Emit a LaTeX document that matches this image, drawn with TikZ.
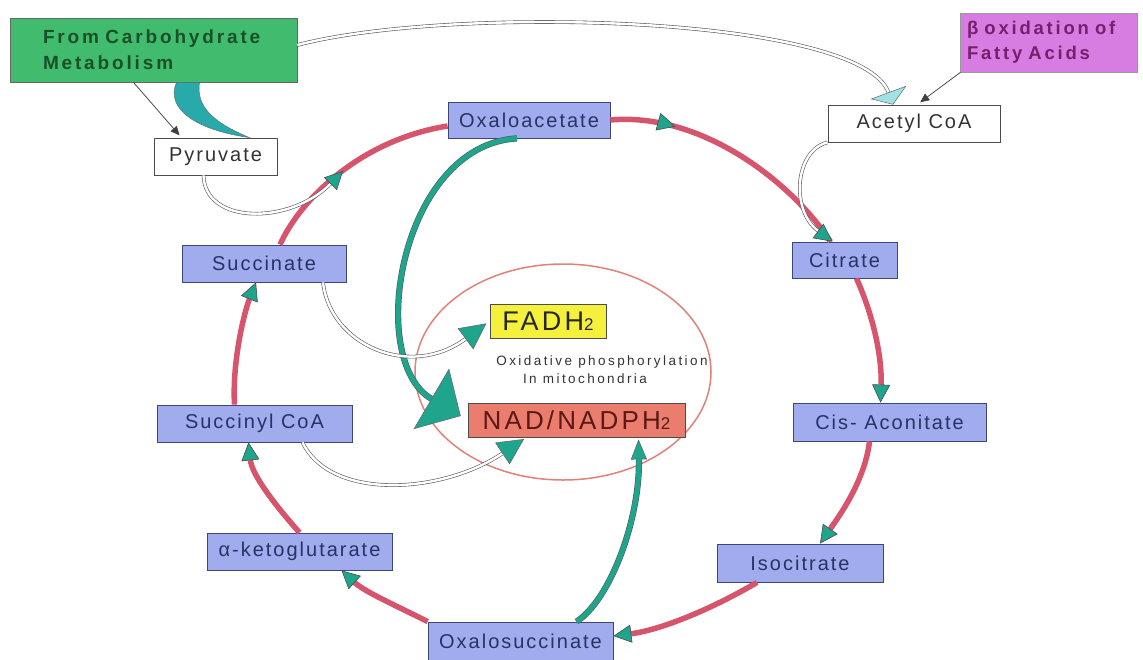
\documentclass[tikz,border=0pt]{standalone}
\usepackage{fontspec}
\setmainfont{Liberation Sans}
\newfontfamily\boxfont{Liberation Sans}[LetterSpace=10]
\newfontfamily\hdfont{Liberation Sans}[LetterSpace=15]
\newfontfamily\bigfont{Liberation Sans}[LetterSpace=12]
\newfontfamily\smfont{Liberation Sans}[LetterSpace=18]
\usetikzlibrary{arrows.meta,decorations.markings}
\definecolor{tealc}{RGB}{30,165,140}
\definecolor{swteal}{RGB}{40,170,170}
\definecolor{lteal}{RGB}{160,225,230}
\definecolor{cycred}{RGB}{214,84,108}
\definecolor{boxblue}{RGB}{160,172,238}
\definecolor{boxborder}{RGB}{60,70,120}
\definecolor{boxtext}{RGB}{40,50,100}
\definecolor{greenfill}{RGB}{65,188,110}
\definecolor{greentext}{RGB}{25,80,40}
\definecolor{purplefill}{RGB}{215,125,225}
\definecolor{purpletext}{RGB}{120,30,110}
\definecolor{yellowfill}{RGB}{245,240,60}
\definecolor{nadfill}{RGB}{235,125,110}
\definecolor{nadtext}{RGB}{90,25,20}
\definecolor{ellred}{RGB}{225,130,120}
\tikzset{
  ctip/.tip={Triangle[length=18pt,width=18pt,fill=tealc,color=black!70,line width=0.6pt]},
  btip/.tip={Triangle[length=26pt,width=26pt,fill=tealc,color=black!60,line width=0.5pt]},
  bigtip/.tip={Triangle[length=34pt,width=70pt,fill=tealc,color=black!60,line width=0.5pt]},
  ntip/.tip={Triangle[length=20pt,width=16pt,fill=tealc,color=black!60,line width=0.5pt]},
  ftip/.tip={Triangle[length=13pt,width=38pt,fill=lteal,color=black!60,line width=0.5pt]},
  stip/.tip={Triangle[length=9pt,width=8pt,fill=black!75,color=black!75]},
  cbox/.style={draw=boxborder, line width=0.8pt, fill=boxblue, text=boxtext,
    font=\boxfont\fontsize{20}{22}\selectfont, inner sep=0pt},
  wbox/.style={draw=black!70, line width=0.8pt, fill=white, text=black!80,
    font=\boxfont\fontsize{20}{22}\selectfont, inner sep=0pt},
  cyc/.style={draw=cycred, line width=5.5pt},
  dline/.style={draw=black!65, double=white, double distance=2.4pt, line width=0.6pt},
  tline/.style={draw=black!65, double=tealc, double distance=5pt, line width=0.6pt},
  pointer/.style={draw=black!70, line width=0.8pt},
  smalltxt/.style={font=\smfont\fontsize{13.5}{15}\selectfont, text=black!80, inner sep=0pt}
}
\begin{document}
\begin{tikzpicture}[x=1pt,y=-1pt]
\fill[white] (0,0) rectangle (1143,659);
\useasboundingbox (0,0) rectangle (1143,659);

% inner ellipse
\draw[ellred, line width=1.5pt] (563,372) ellipse [x radius=148, y radius=108];

% nodes
\node[draw=black!60, line width=0.8pt, fill=greenfill, text=greentext,
  font=\hdfont\bfseries\fontsize{19}{26}\selectfont,
  minimum width=287pt, minimum height=64pt, text width=221pt, align=left, inner sep=3pt]
  (green) at (153.5,50) {\mbox{From Carbohydrate}\\\mbox{Metabolism}};
\node[draw=black!40, line width=0.6pt, fill=purplefill, text=purpletext,
  font=\hdfont\bfseries\fontsize{18.5}{25}\selectfont,
  minimum width=177pt, minimum height=59pt, text width=163pt, align=left, inner sep=3pt]
  (purple) at (1048.5,42.5) {\mbox{β oxidation of}\\\mbox{Fatty Acids}};
\node[wbox, minimum width=123pt, minimum height=37pt] (pyr) at (215.5,156.5) {Pyruvate};
\node[wbox, minimum width=172pt, minimum height=37pt] (acoa) at (914,123.5) {Acetyl CoA};
\node[cbox, minimum width=162pt, minimum height=36pt] (oxa) at (529,120) {Oxaloacetate};
\node[cbox, minimum width=105pt, minimum height=36pt] (cit) at (844.5,260) {Citrate};
\node[cbox, minimum width=164pt, minimum height=37pt] (succ) at (264,263.5) {Succinate};
\node[cbox, minimum width=193pt, minimum height=38pt] (cis) at (889.5,422) {Cis- Aconitate};
\node[cbox, minimum width=195pt, minimum height=37pt] (scoa) at (254.5,423.5) {Succinyl CoA};
\node[cbox, minimum width=166pt, minimum height=38pt] (iso) at (800,563) {Isocitrate};
\node[cbox, minimum width=185pt, minimum height=37pt] (akg) at (299.5,551.5) {α-ketoglutarate};
\node[cbox, minimum width=185pt, minimum height=38pt] (oxs) at (520.5,641) {Oxalosuccinate};
\node[draw=black!70, line width=0.8pt, fill=yellowfill, text=black!85,
  font=\bigfont\fontsize{27}{28}\selectfont, inner sep=0pt,
  minimum width=116pt, minimum height=34pt] (fadh) at (548,321)
  {FADH{\fontsize{17}{17}\selectfont 2}};
\node[draw=black!70, line width=0.8pt, fill=nadfill, text=nadtext,
  font=\bigfont\fontsize{26}{28}\selectfont, inner sep=0pt,
  minimum width=217pt, minimum height=34pt] (nad) at (576.5,420)
  {NAD/NADPH{\fontsize{17}{17}\selectfont 2}};
\node[smalltxt] (ox1) at (602,362) {Oxidative phosphorylation};
\node[smalltxt] (ox2) at (585,379) {In mitochondria};
\coordinate (pyrjoin) at (343,171);

% cycle
\draw[cyc, postaction={decorate, decoration={markings, mark=at position 0.25 with {\arrow{ctip}}}}]
  (oxa.east) .. controls (700,112) and (790,180) .. ([xshift=-14pt]cit.north);
\draw[cyc, -ctip] ([xshift=12pt]cit.south) .. controls (875,320) and (882,360) .. ([xshift=-9pt]cis.north);
\draw[cyc, -ctip] ([xshift=-20pt]cis.south) .. controls (865,480) and (840,515) .. ([xshift=20pt]iso.north);
\draw[cyc, -ctip] ([xshift=-43pt]iso.south) .. controls (710,610) and (660,630) .. ([yshift=5pt]oxs.east);
\draw[cyc, -ctip] (oxs.north west) .. controls (395,605) and (365,592) .. ([xshift=42pt]akg.south);
\draw[cyc, -ctip] (akg.north) .. controls (275,505) and (252,475) .. ([xshift=-6pt]scoa.south);
\draw[cyc, -ctip] ([xshift=-20pt]scoa.north) .. controls (232,360) and (245,310) .. ([xshift=-8pt]succ.south);
\draw[cyc] ([xshift=16pt]succ.north) .. controls (300,200) and (360,140) .. ([yshift=-6pt]oxa.west);

% feeders
\fill[swteal, draw=black!60, line width=0.4pt]
  ([xshift=23pt]green.south) .. controls (165,108) and (195,130) .. ([xshift=34pt]pyr.north)
  .. controls (212,122) and (196,106) .. ([xshift=46pt]green.south) -- cycle;
\draw[pointer, -stip, shorten >=3pt] ([xshift=-20pt]green.south) -- ([xshift=-34pt]pyr.north);
\draw[pointer, -stip, shorten >=4pt] ([xshift=-88pt]purple.south) -- ([xshift=3pt]acoa.north);
\draw[dline, -ftip] ([yshift=5pt]green.east) .. controls (450,5) and (860,15) .. ([xshift=-21pt]acoa.north);
\draw[dline, -ctip] ([xshift=-12pt]pyr.south) .. controls (205,225) and (290,225) .. (pyrjoin);
\draw[dline, -ctip] (acoa.south west) .. controls (795,150) and (790,210) .. ([xshift=-12pt]cit.north);

% to oxidative phosphorylation
\draw[tline, -bigtip, shorten >=8pt] ([xshift=-12pt]oxa.south) .. controls (400,145) and (365,360) .. (nad.west);
\draw[dline, -btip, shorten >=4pt] ([xshift=59pt]succ.south) .. controls (330,345) and (410,380) .. (fadh.west);
\draw[dline, -btip, shorten >=3pt] ([xshift=48pt]scoa.south) .. controls (330,500) and (440,495) .. ([xshift=-50pt]nad.south);
\draw[tline, -ntip, shorten >=2pt] ([xshift=56pt]oxs.north) .. controls (610,600) and (640,520) .. ([xshift=62pt]nad.south);
\end{tikzpicture}
\end{document}
